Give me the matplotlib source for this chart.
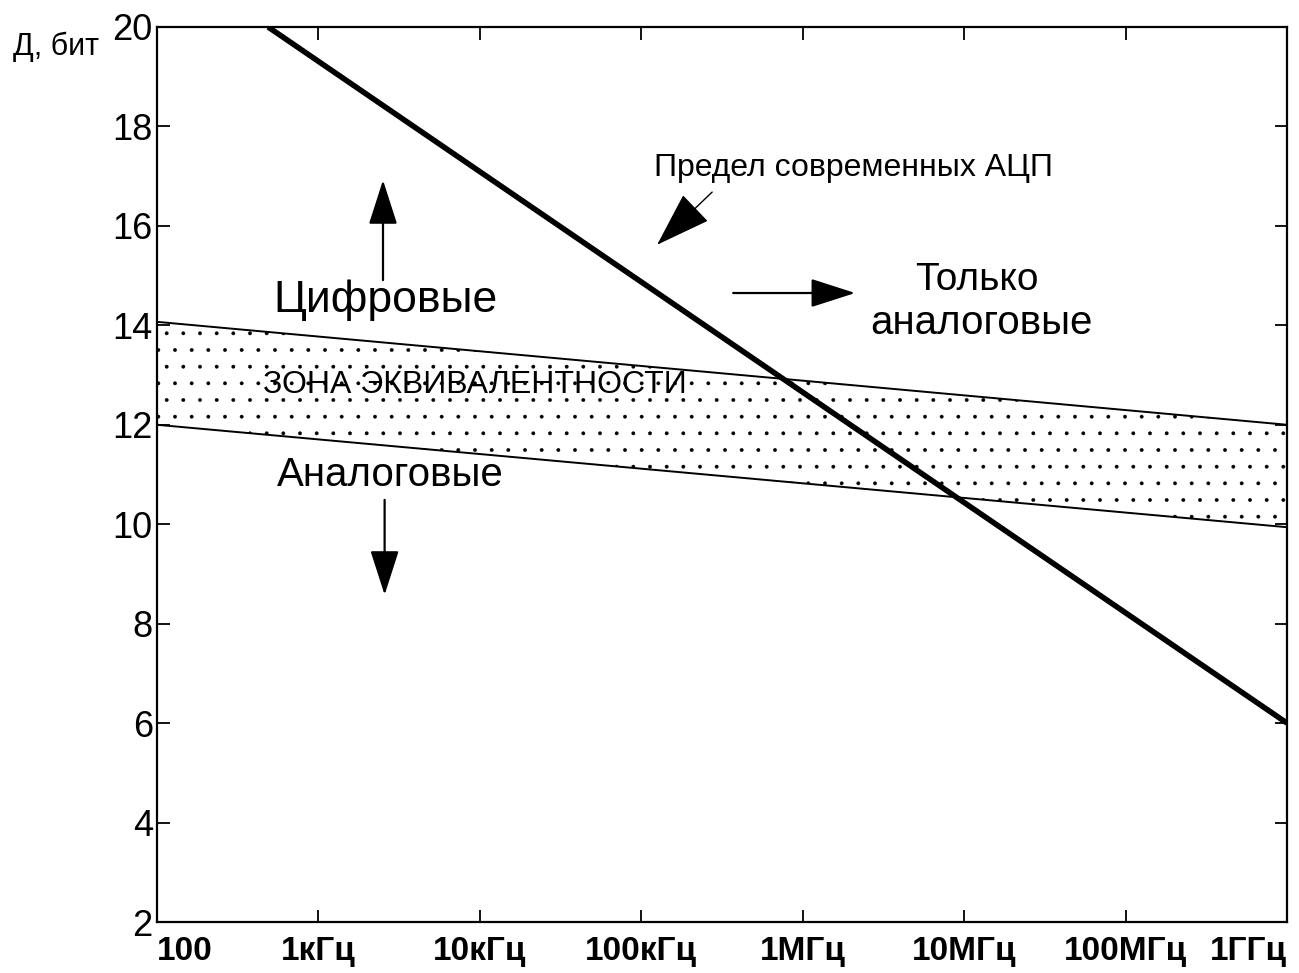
import matplotlib
matplotlib.use('Agg')
import matplotlib.pyplot as plt

plt.rcParams['font.family'] = ['Liberation Sans', 'DejaVu Sans']
plt.rcParams['hatch.linewidth'] = 0.3

# frequency axis, Hz
freq_ticks = [1e2, 1e3, 1e4, 1e5, 1e6, 1e7, 1e8, 1e9]
freq_labels = ['100', '1кГц', '10кГц', '100кГц', '1МГц', '10МГц', '100МГц', '1ГГц']
bit_ticks = [2, 4, 6, 8, 10, 12, 14, 16, 18, 20]

# limit of modern ADCs (thick line)
limit_freq = [488, 1e9]
limit_bits = [20, 6]

# equivalence zone
band_freq = [1e2, 1e9]
band_upper = [14.07, 12.0]
band_lower = [12.0, 9.94]

fig = plt.figure(figsize=(12.99, 9.73), dpi=100)
ax = fig.add_axes([157 / 1299, 51 / 973, 1130 / 1299, 895 / 973])
ax.set_xscale('log')
ax.set_xlim(1e2, 1e9)
ax.set_ylim(2, 20)

ax.fill_between(band_freq, band_lower, band_upper, facecolor='none',
                edgecolor='black', hatch='.', linewidth=0)
ax.plot(band_freq, band_upper, color='black', lw=1.4)
ax.plot(band_freq, band_lower, color='black', lw=1.4)
ax.plot(limit_freq, limit_bits, color='black', lw=4, solid_capstyle='butt')

ax.set_xticks(freq_ticks)
ax.set_xticklabels(freq_labels, family=['Liberation Sans Narrow', 'Liberation Sans'],
                   fontweight='bold', fontsize=24)
ax.minorticks_off()
labels = ax.get_xticklabels()
labels[0].set_horizontalalignment('left')
labels[-1].set_horizontalalignment('right')
ax.set_yticks(bit_ticks)
ax.set_yticklabels([str(b) for b in bit_ticks], fontsize=26)
ax.tick_params(direction='in', length=9, width=1.3, top=True, right=True)
ax.tick_params(axis='x', pad=10)
ax.tick_params(axis='y', pad=3)
for s in ax.spines.values():
    s.set_linewidth(1.6)

fig.text(13 / 1299, 1 - 55 / 973, 'Д, бит', fontsize=22, ha='left', va='baseline')

# annotations
ax.text(10**3.413, 14.51, 'Цифровые', fontsize=32, ha='center', va='center')
ax.text(10**3.444, 10.99, 'Аналоговые', fontsize=29, ha='center', va='center')
ax.text(10**3.97, 12.80, 'ЗОНА ЭКВИВАЛЕНТНОСТИ', fontsize=23, ha='center', va='center')
ax.text(10**6.312, 17.16, 'Предел современных АЦП', fontsize=23, ha='center', va='center')
ax.text(10**7.08, 14.91, 'Только', fontsize=28, ha='center', va='center')
ax.text(10**7.11, 14.05, 'аналоговые', fontsize=29, ha='center', va='center')

arrow = dict(arrowstyle='-|>,head_length=1.4,head_width=0.45', color='black',
             lw=1.6, mutation_scale=20, shrinkA=0, shrinkB=0)
ax.annotate('', xy=(10**3.40, 16.92), xytext=(10**3.40, 14.91), arrowprops=arrow)
ax.annotate('', xy=(10**3.41, 8.58), xytext=(10**3.41, 10.49), arrowprops=arrow)
ax.annotate('', xy=(10**6.325, 14.65), xytext=(10**5.569, 14.65), arrowprops=arrow)
ax.annotate('', xy=(10**5.098, 15.62), xytext=(10**5.439, 16.68),
            arrowprops=dict(arrowstyle='-|>,head_length=1.8,head_width=0.6', color='black',
                            lw=1.0, mutation_scale=20, shrinkA=0, shrinkB=0))

fig.savefig('out.png', dpi=100)
